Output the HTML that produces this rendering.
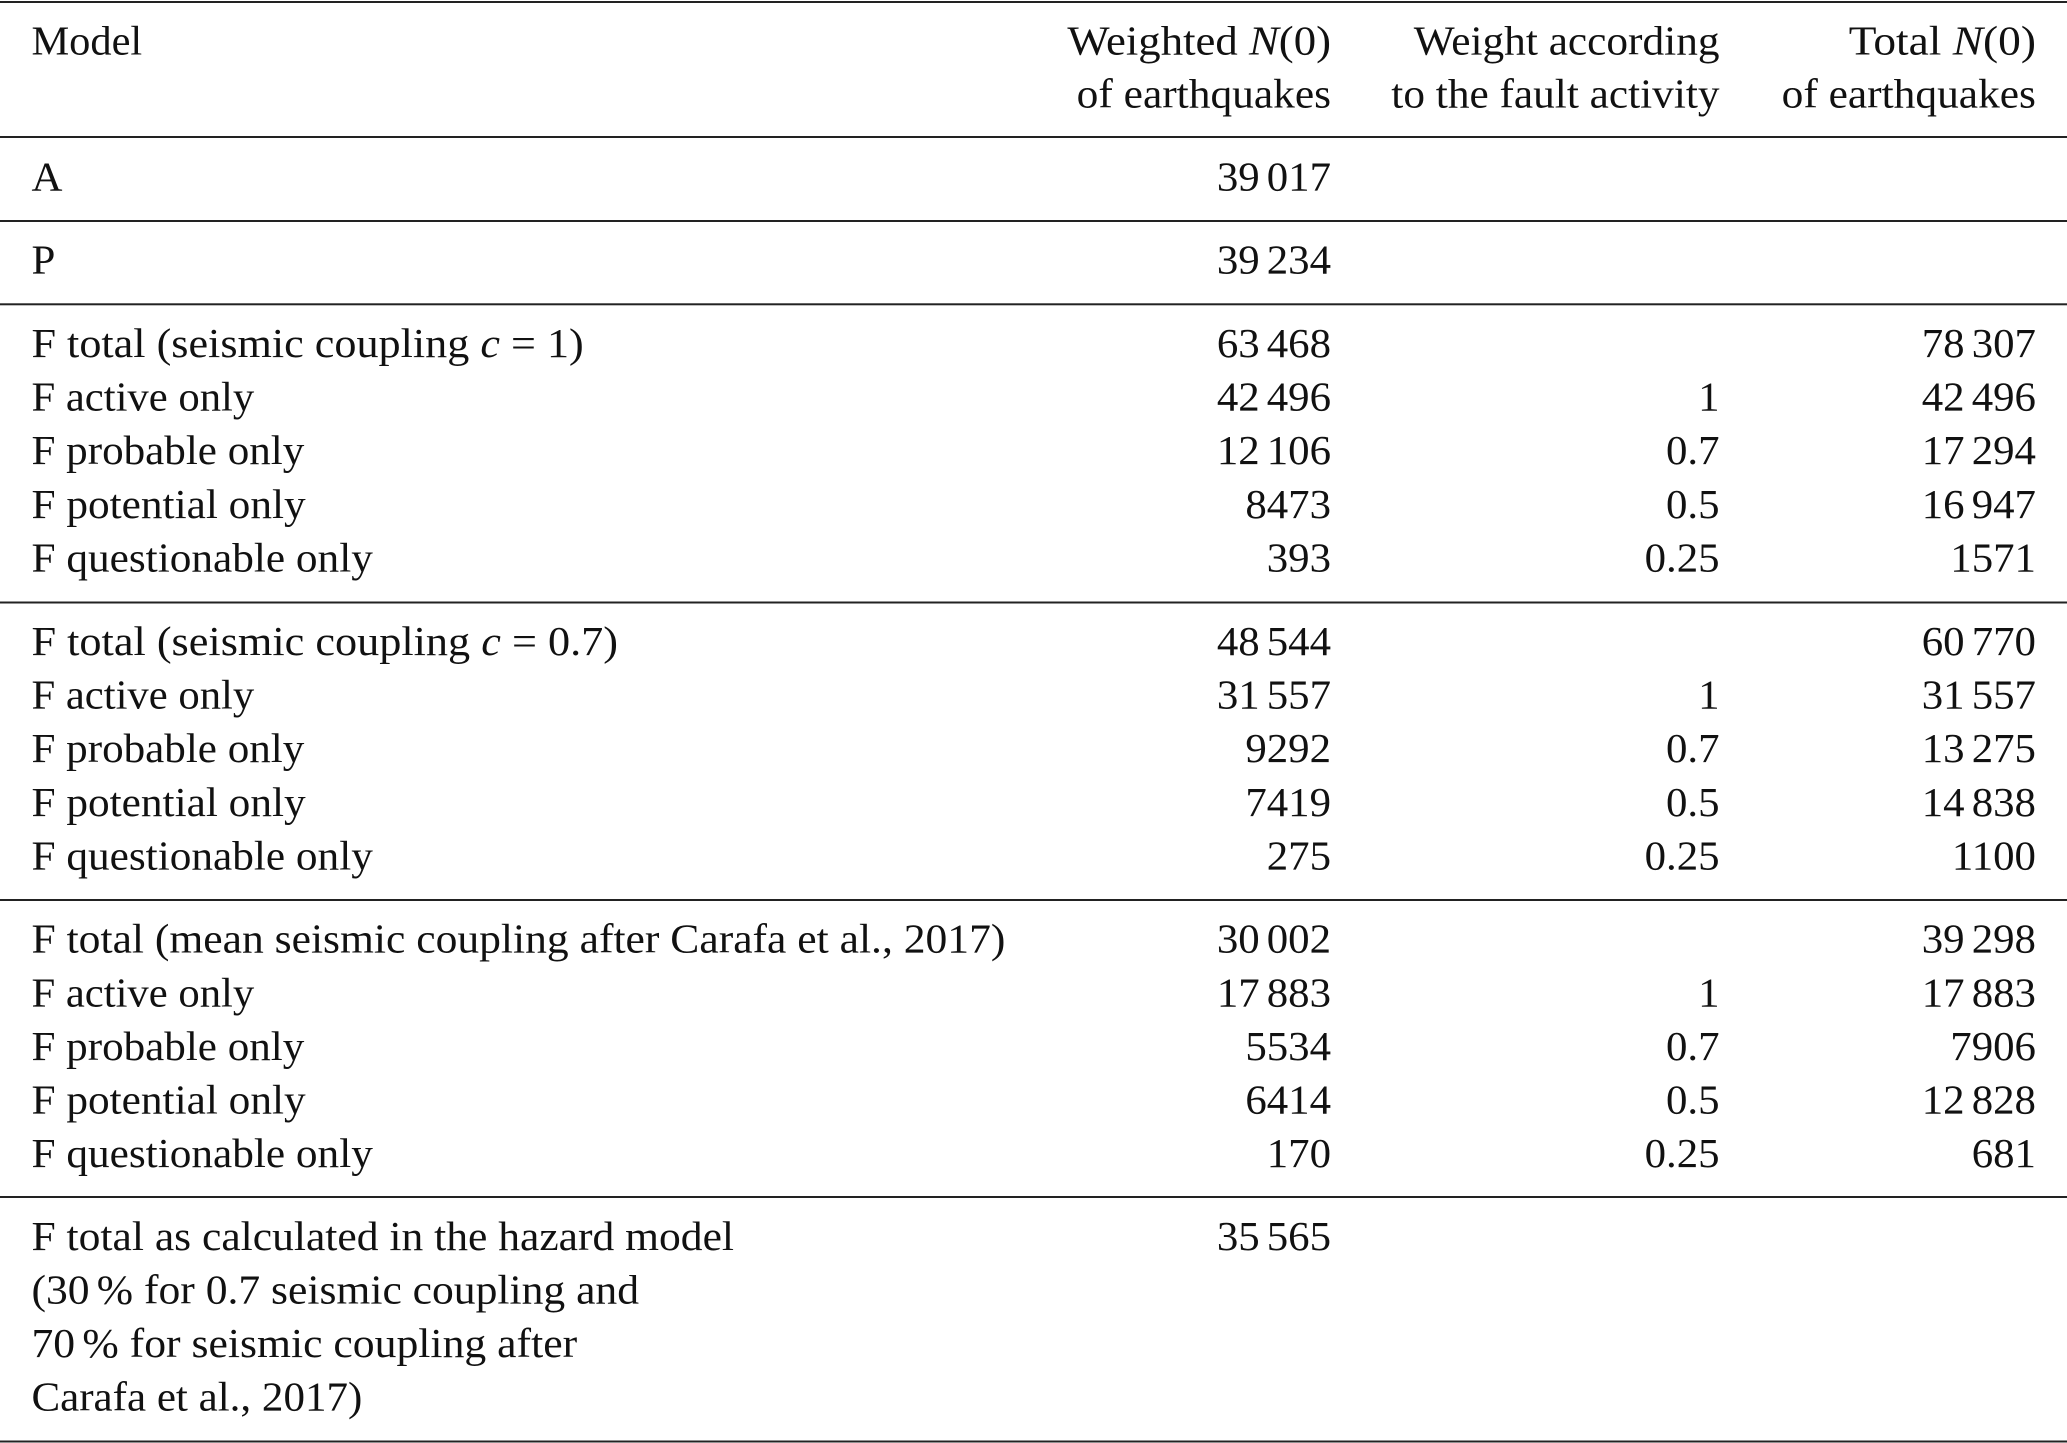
<!DOCTYPE html>
<html>
<head>
<meta charset="utf-8">
<style>
  html, body { margin:0; padding:0; background:#fff; }
  body { width:2067px; height:1443px; overflow:hidden; }
  svg { display:block; }
  text { font-family: "Liberation Serif", "Times New Roman", serif; font-size:41px; fill:#111; }
  .r { text-anchor:end; }
</style>
</head>
<body>
<svg width="2067" height="1443" viewBox="0 0 2067 1443" xmlns="http://www.w3.org/2000/svg">
  <g fill="#222">
    <rect x="0" y="1" width="2067" height="2"/>
    <rect x="0" y="136" width="2067" height="2"/>
    <rect x="0" y="220" width="2067" height="2"/>
    <rect x="0" y="303.3" width="2067" height="2"/>
    <rect x="0" y="601.5" width="2067" height="2"/>
    <rect x="0" y="899" width="2067" height="2"/>
    <rect x="0" y="1196" width="2067" height="2"/>
    <rect x="0" y="1440.5" width="2067" height="2"/>
  </g>
  <g transform="scale(1.045 1)">
    <!-- header -->
    <text x="30.1" y="54.5" textLength="106" lengthAdjust="spacingAndGlyphs">Model</text>
    <text class="r" x="1273.7" y="54.5" textLength="252.3" lengthAdjust="spacingAndGlyphs">Weighted <tspan font-style="italic">N</tspan>(0)</text>
    <text class="r" x="1273.7" y="107.5" textLength="243.4" lengthAdjust="spacingAndGlyphs">of earthquakes</text>
    <text class="r" x="1645.5" y="54.5" textLength="292.6" lengthAdjust="spacingAndGlyphs">Weight according</text>
    <text class="r" x="1645.5" y="107.5" textLength="314.1" lengthAdjust="spacingAndGlyphs">to the fault activity</text>
    <text class="r" x="1948.3" y="54.5" textLength="179.1" lengthAdjust="spacingAndGlyphs">Total <tspan font-style="italic">N</tspan>(0)</text>
    <text class="r" x="1948.3" y="107.5" textLength="243.4" lengthAdjust="spacingAndGlyphs">of earthquakes</text>

    <!-- A / P -->
    <text x="30.1" y="190.5">A</text>
    <text class="r" x="1273.7" y="190.5">39<tspan dx="6.8">017</tspan></text>
    <text x="30.1" y="273.5">P</text>
    <text class="r" x="1273.7" y="273.5">39<tspan dx="6.8">234</tspan></text>

    <!-- Group 1 -->
    <text x="30.1" y="357" textLength="528.5" lengthAdjust="spacingAndGlyphs">F total (seismic coupling <tspan font-style="italic">c</tspan> = 1)</text>
    <text class="r" x="1273.7" y="357">63<tspan dx="6.8">468</tspan></text>
    <text class="r" x="1948.3" y="357">78<tspan dx="6.8">307</tspan></text>

    <text x="30.1" y="410.6" textLength="213.2" lengthAdjust="spacingAndGlyphs">F active only</text>
    <text class="r" x="1273.7" y="410.6">42<tspan dx="6.8">496</tspan></text>
    <text class="r" x="1645.5" y="410.6">1</text>
    <text class="r" x="1948.3" y="410.6">42<tspan dx="6.8">496</tspan></text>

    <text x="30.1" y="464.2" textLength="261.1" lengthAdjust="spacingAndGlyphs">F probable only</text>
    <text class="r" x="1273.7" y="464.2">12<tspan dx="6.8">106</tspan></text>
    <text class="r" x="1645.5" y="464.2">0.7</text>
    <text class="r" x="1948.3" y="464.2">17<tspan dx="6.8">294</tspan></text>

    <text x="30.1" y="517.8" textLength="262.4" lengthAdjust="spacingAndGlyphs">F potential only</text>
    <text class="r" x="1273.7" y="517.8">8473</text>
    <text class="r" x="1645.5" y="517.8">0.5</text>
    <text class="r" x="1948.3" y="517.8">16<tspan dx="6.8">947</tspan></text>

    <text x="30.1" y="571.4" textLength="326.7" lengthAdjust="spacingAndGlyphs">F questionable only</text>
    <text class="r" x="1273.7" y="571.4">393</text>
    <text class="r" x="1645.5" y="571.4">0.25</text>
    <text class="r" x="1948.3" y="571.4">1571</text>

    <!-- Group 2 -->
    <text x="30.1" y="655" textLength="561.3" lengthAdjust="spacingAndGlyphs">F total (seismic coupling <tspan font-style="italic">c</tspan> = 0.7)</text>
    <text class="r" x="1273.7" y="655">48<tspan dx="6.8">544</tspan></text>
    <text class="r" x="1948.3" y="655">60<tspan dx="6.8">770</tspan></text>

    <text x="30.1" y="708.6" textLength="213.2" lengthAdjust="spacingAndGlyphs">F active only</text>
    <text class="r" x="1273.7" y="708.6">31<tspan dx="6.8">557</tspan></text>
    <text class="r" x="1645.5" y="708.6">1</text>
    <text class="r" x="1948.3" y="708.6">31<tspan dx="6.8">557</tspan></text>

    <text x="30.1" y="762.2" textLength="261.1" lengthAdjust="spacingAndGlyphs">F probable only</text>
    <text class="r" x="1273.7" y="762.2">9292</text>
    <text class="r" x="1645.5" y="762.2">0.7</text>
    <text class="r" x="1948.3" y="762.2">13<tspan dx="6.8">275</tspan></text>

    <text x="30.1" y="815.8" textLength="262.4" lengthAdjust="spacingAndGlyphs">F potential only</text>
    <text class="r" x="1273.7" y="815.8">7419</text>
    <text class="r" x="1645.5" y="815.8">0.5</text>
    <text class="r" x="1948.3" y="815.8">14<tspan dx="6.8">838</tspan></text>

    <text x="30.1" y="869.4" textLength="326.7" lengthAdjust="spacingAndGlyphs">F questionable only</text>
    <text class="r" x="1273.7" y="869.4">275</text>
    <text class="r" x="1645.5" y="869.4">0.25</text>
    <text class="r" x="1948.3" y="869.4">1100</text>

    <!-- Group 3 -->
    <text x="30.1" y="952.7" textLength="932" lengthAdjust="spacingAndGlyphs">F total (mean seismic coupling after Carafa et al., 2017)</text>
    <text class="r" x="1273.7" y="952.7">30<tspan dx="6.8">002</tspan></text>
    <text class="r" x="1948.3" y="952.7">39<tspan dx="6.8">298</tspan></text>

    <text x="30.1" y="1006.3" textLength="213.2" lengthAdjust="spacingAndGlyphs">F active only</text>
    <text class="r" x="1273.7" y="1006.3">17<tspan dx="6.8">883</tspan></text>
    <text class="r" x="1645.5" y="1006.3">1</text>
    <text class="r" x="1948.3" y="1006.3">17<tspan dx="6.8">883</tspan></text>

    <text x="30.1" y="1059.9" textLength="261.1" lengthAdjust="spacingAndGlyphs">F probable only</text>
    <text class="r" x="1273.7" y="1059.9">5534</text>
    <text class="r" x="1645.5" y="1059.9">0.7</text>
    <text class="r" x="1948.3" y="1059.9">7906</text>

    <text x="30.1" y="1113.5" textLength="262.4" lengthAdjust="spacingAndGlyphs">F potential only</text>
    <text class="r" x="1273.7" y="1113.5">6414</text>
    <text class="r" x="1645.5" y="1113.5">0.5</text>
    <text class="r" x="1948.3" y="1113.5">12<tspan dx="6.8">828</tspan></text>

    <text x="30.1" y="1167.1" textLength="326.7" lengthAdjust="spacingAndGlyphs">F questionable only</text>
    <text class="r" x="1273.7" y="1167.1">170</text>
    <text class="r" x="1645.5" y="1167.1">0.25</text>
    <text class="r" x="1948.3" y="1167.1">681</text>

    <!-- Group 4 -->
    <text x="30.1" y="1250.2" textLength="672.3" lengthAdjust="spacingAndGlyphs">F total as calculated in the hazard model</text>
    <text class="r" x="1273.7" y="1250.2">35<tspan dx="6.8">565</tspan></text>
    <text x="30.1" y="1303.6" textLength="581.4" lengthAdjust="spacingAndGlyphs">(30<tspan dx="6.8">%</tspan> for 0.7 seismic coupling and</text>
    <text x="30.1" y="1357" textLength="522.2" lengthAdjust="spacingAndGlyphs">70<tspan dx="6.8">%</tspan> for seismic coupling after</text>
    <text x="30.1" y="1410.4" textLength="316.6" lengthAdjust="spacingAndGlyphs">Carafa et al., 2017)</text>
  </g>
</svg>
</body>
</html>
